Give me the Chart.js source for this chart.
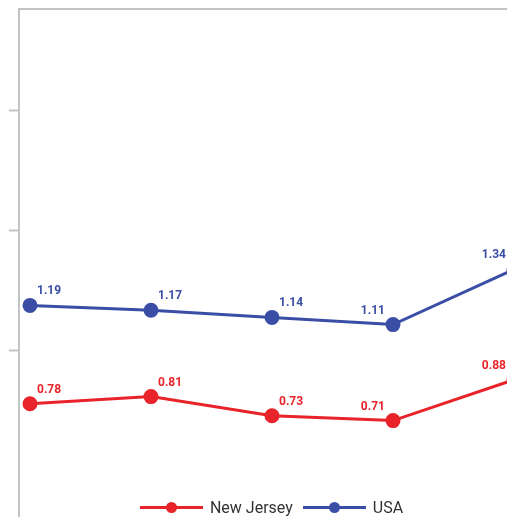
<!DOCTYPE html>
<html>
<head>
<meta charset="utf-8">
<script src="https://cdn.jsdelivr.net/npm/chart.js@4"></script>
<style>
html, body { margin: 0; padding: 0; background: #fff; overflow: hidden; }
#wrap { position: relative; width: 507px; height: 517px; overflow: hidden; }
#chart { position: absolute; left: 0; top: 0; }
#legend { position: absolute; left: 0; top: 496px; width: 543px; height: 22px;
  display: flex; justify-content: center; align-items: center;
  font: 16px Roboto, sans-serif; color: #333; }
.item { display: flex; align-items: center; margin: 0 5px; }
.sym { position: relative; width: 63px; height: 3px; margin-right: 7px; }
.sym i { position: absolute; left: 26px; top: -4px; width: 11px; height: 11px; border-radius: 50%; }
</style>
</head>
<body>
<div id="wrap">
  <canvas id="chart" width="543" height="517"></canvas>
  <div id="legend"></div>
</div>
<script>
// x positions of the five periods (axis labels are not shown)
let periods = [0, 1, 2, 3, 4];
let new_jersey = [0.78, 0.81, 0.73, 0.71, 0.88];
let usa = [1.19, 1.17, 1.14, 1.11, 1.34];
let y_ticks = [1, 1.5, 2];

let red = '#e8242a';
let blue = '#3b4ea6';
let axis_grey = '#c0c4c4';

function to_points(vals) {
    return vals.map((v, i) => ({ x: periods[i], y: v }));
}

// draws the value above each point
const valueLabels = {
    id: 'valueLabels',
    afterDatasetsDraw(chart) {
        let ctx = chart.ctx;
        ctx.save();
        ctx.font = 'bold 12px Roboto, sans-serif';
        ctx.textBaseline = 'bottom';
        chart.data.datasets.forEach((ds, i) => {
            chart.getDatasetMeta(i).data.forEach((pt, j) => {
                let right_side = j < 3;
                ctx.fillStyle = ds.borderColor;
                ctx.textAlign = right_side ? 'left' : 'right';
                ctx.fillText(ds.data[j].y.toFixed(2), pt.x + (right_side ? 7 : -8), pt.y - 8);
            });
        });
        ctx.restore();
    }
};

let ctx = document.getElementById('chart');
let chart = new Chart(ctx, {
    type: 'line',
    data: {
        datasets: [
            {
                label: 'New Jersey',
                data: to_points(new_jersey),
                borderColor: red,
                backgroundColor: red,
                borderWidth: 3,
                pointRadius: 6,
                pointHoverRadius: 6,
                tension: 0,
                fill: false
            },
            {
                label: 'USA',
                data: to_points(usa),
                borderColor: blue,
                backgroundColor: blue,
                borderWidth: 3,
                pointRadius: 6,
                pointHoverRadius: 6,
                tension: 0,
                fill: false
            }
        ]
    },
    options: {
        responsive: false,
        animation: false,
        layout: { autoPadding: false, padding: { left: 9, top: 9, right: 0, bottom: 0 } },
        scales: {
            x: {
                type: 'linear',
                position: 'top',
                min: -0.0909,
                max: 4.2397,
                ticks: { display: false },
                grid: { drawOnChartArea: false, drawTicks: false },
                border: { color: axis_grey, width: 2 }
            },
            y: {
                min: 0.3083,
                max: 2.425,
                afterBuildTicks: (scale) => { scale.ticks = y_ticks.map(v => ({ value: v })); },
                ticks: { display: false },
                grid: { drawOnChartArea: false, drawTicks: true, tickLength: 10, tickColor: axis_grey, tickWidth: 2 },
                border: { color: axis_grey, width: 2 }
            }
        },
        plugins: {
            legend: { display: false },
            tooltip: { enabled: false }
        }
    },
    plugins: [valueLabels]
});

// html legend built from the datasets
let legend = document.getElementById('legend');
chart.data.datasets.forEach(ds => {
    legend.innerHTML += `<div class="item"><span class="sym" style="background:${ds.borderColor}"><i style="background:${ds.borderColor}"></i></span><span>${ds.label}</span></div>`;
});
</script>
</body>
</html>
